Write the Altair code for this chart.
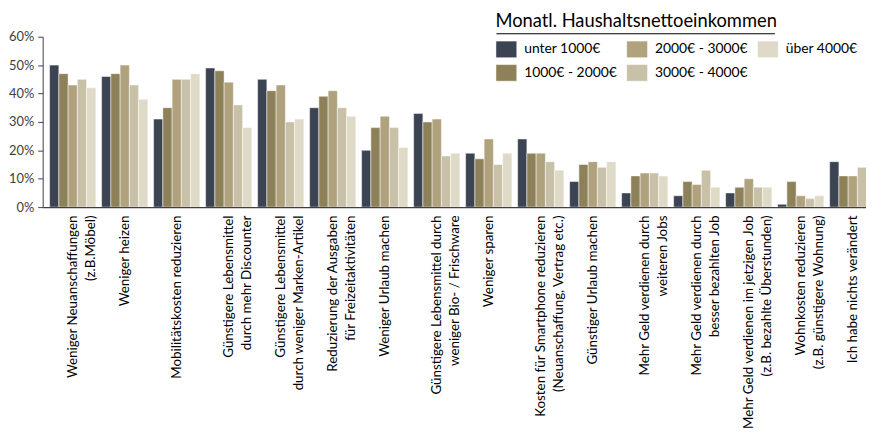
import altair as alt
import pandas as pd

categories = [
    "Weniger Neuanschaffungen|(z.B.Möbel)",
    "Weniger heizen",
    "Mobilitätskosten reduzieren",
    "Günstigere Lebensmittel|durch mehr Discounter",
    "Günstigere Lebensmittel|durch weniger Marken-Artikel",
    "Reduzierung der Ausgaben|für Freizeitaktivitäten",
    "Weniger Urlaub machen",
    "Günstigere Lebensmittel durch|weniger Bio- / Frischware",
    "Weniger sparen",
    "Kosten für Smartphone reduzieren|(Neuanschaffung, Vertrag etc.)",
    "Günstiger Urlaub machen",
    "Mehr Geld verdienen durch|weiteren Jobs",
    "Mehr Geld verdienen durch|besser bezahlten Job",
    "Mehr Geld verdienen im jetzigen Job|(z.B. bezahlte Überstunden)",
    "Wohnkosten reduzieren|(z.B. günstigere Wohnung)",
    "Ich habe nichts verändert",
]
series = ["unter 1000€", "1000€ - 2000€", "2000€ - 3000€", "3000€ - 4000€", "über 4000€"]
v_unter_1000 = [50, 46, 31, 49, 45, 35, 20, 33, 19, 24, 9, 5, 4, 5, 1, 16]
v_1000_2000 = [47, 47, 35, 48, 41, 39, 28, 30, 17, 19, 15, 11, 9, 7, 9, 11]
v_2000_3000 = [43, 50, 45, 44, 43, 41, 32, 31, 24, 19, 16, 12, 8, 10, 4, 11]
v_3000_4000 = [45, 43, 45, 36, 30, 35, 28, 18, 15, 16, 14, 12, 13, 7, 3, 14]
v_ueber_4000 = [42, 38, 47, 28, 31, 32, 21, 19, 19, 13, 16, 11, 7, 7, 4, 13]
colors = ["#3c4352", "#8d8159", "#afa27c", "#c9c0a8", "#dfd9c8"]
y_ticks = [0, 10, 20, 30, 40, 50, 60]

values = [v_unter_1000, v_1000_2000, v_2000_3000, v_3000_4000, v_ueber_4000]
rows = []
for s, vals in zip(series, values):
    for c, v in zip(categories, vals):
        rows.append({"cat": c, "series": s, "value": v})
df = pd.DataFrame(rows)

legend_idx = [0, 2, 4, 1, 3]
legend_domain = [series[i] for i in legend_idx]
legend_range = [colors[i] for i in legend_idx]

FONT = "Lato"

bars = alt.Chart(df).mark_bar(stroke="#ffffff", strokeWidth=0.5, clip=True).encode(
    x=alt.X(
        "cat:N",
        sort=categories,
        scale=alt.Scale(range=[0, 848], paddingInner=0.11, paddingOuter=0.133),
        axis=alt.Axis(
            title=None,
            labelAngle=-90,
            labelAlign="right",
            labelBaseline="middle",
            ticks=False,
            labelPadding=8,
            labelFontSize=13.5,
            labelFont=FONT,
            labelColor="#000000",
            labelLimit=400,
            labelOverlap=False,
            labelLineHeight=18,
            labelExpr="split(datum.label, '|')",
            domainColor="#404040",
            domainWidth=1.5,
        ),
    ),
    xOffset=alt.XOffset("series:N", sort=series, scale=alt.Scale(domain=series, paddingInner=0, paddingOuter=0)),
    y=alt.Y(
        "value:Q",
        scale=alt.Scale(domain=[0, 60]),
        axis=alt.Axis(
            title=None,
            values=y_ticks,
            labelExpr="datum.value + '%'",
            grid=False,
            tickSize=5,
            tickColor="#404040",
            domainColor="#404040",
            labelFontSize=13,
            labelFont=FONT,
            labelColor="#404040",
            labelPadding=4,
        ),
    ),
    color=alt.Color(
        "series:N",
        scale=alt.Scale(domain=legend_domain, range=legend_range),
        legend=alt.Legend(
            title="Monatl. Haushaltsnettoeinkommen",
            orient="none",
            legendX=457,
            legendY=-25,
            columns=3,
            direction="horizontal",
            titleFontSize=18.5,
            titleFontWeight="normal",
            titleFont=FONT,
            titleColor="#000000",
            titleLimit=500,
            titlePadding=8,
            labelFontSize=14,
            labelFont=FONT,
            labelColor="#000000",
            labelOffset=7,
            labelLimit=200,
            symbolType="M-1,-0.8L1,-0.8L1,0.8L-1,0.8Z",
            symbolSize=441,
            symbolStrokeColor="#ffffff",
            symbolStrokeWidth=0.5,
            symbolOpacity=1,
            columnPadding=8,
            rowPadding=3,
        ),
    ),
)

underline = alt.Chart(pd.DataFrame({"k": [0]})).mark_rule(color="#000000", strokeWidth=1.2).encode(
    x=alt.value(458), x2=alt.value(739), y=alt.value(-3)
)

chart = alt.layer(bars, underline).properties(
    width=831,
    height=172,
    autosize=alt.AutoSizeParams(type="none"),
    padding={"left": 35, "top": 27, "right": 0, "bottom": 226},
).configure_view(stroke=None)

chart.save("out.html", embed_options={"renderer": "svg", "actions": False})
